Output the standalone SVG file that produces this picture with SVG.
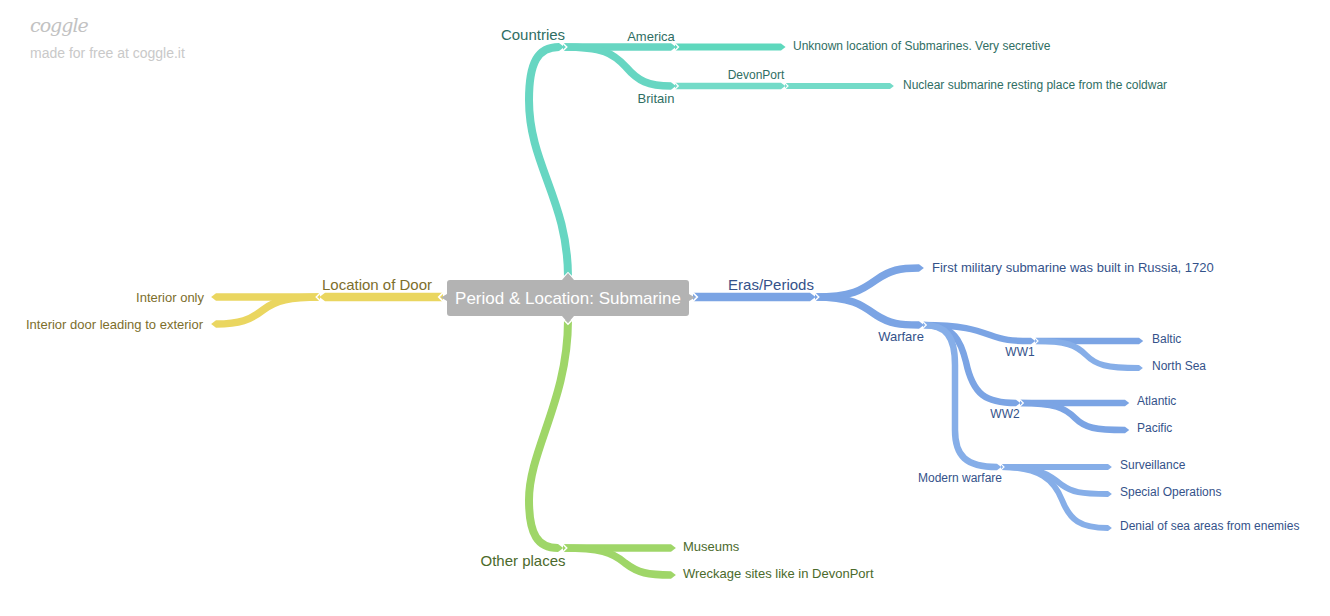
<svg xmlns="http://www.w3.org/2000/svg" width="1330" height="616" viewBox="0 0 1330 616">
<defs>
<style>
text{font-family:"Liberation Sans",Arial,sans-serif}
.e{fill:none;stroke-linecap:butt}
.teal{stroke:#67d6c2}
.teal2{stroke:#5ed8bd}
.teal3{stroke:#74dbc8}
.blue{stroke:#7ba4e4}
.blue2{stroke:#86aee8}
.yel{stroke:#ead660}
.grn{stroke:#9fd668}
.tt{fill:#2f6e63}
.bt{fill:#34528a}
.yt{fill:#7d6e2c}
.gt{fill:#4b6a2c}
.m{text-anchor:middle}
.r{text-anchor:end}
</style>
<marker id="tT" viewBox="-1 -1 2 2" markerWidth="2" markerHeight="2" refX="0" refY="0" orient="auto" markerUnits="strokeWidth" overflow="visible"><path d="M0,-0.5 L0.65,0 L0,0.5 z" fill="#67d6c2"/></marker>
<marker id="tT2" viewBox="-1 -1 2 2" markerWidth="2" markerHeight="2" refX="0" refY="0" orient="auto" markerUnits="strokeWidth" overflow="visible"><path d="M0,-0.5 L0.65,0 L0,0.5 z" fill="#5ed8bd"/></marker>
<marker id="tT3" viewBox="-1 -1 2 2" markerWidth="2" markerHeight="2" refX="0" refY="0" orient="auto" markerUnits="strokeWidth" overflow="visible"><path d="M0,-0.5 L0.65,0 L0,0.5 z" fill="#74dbc8"/></marker>
<marker id="tB" viewBox="-1 -1 2 2" markerWidth="2" markerHeight="2" refX="0" refY="0" orient="auto" markerUnits="strokeWidth" overflow="visible"><path d="M0,-0.5 L0.65,0 L0,0.5 z" fill="#7ba4e4"/></marker>
<marker id="tB2" viewBox="-1 -1 2 2" markerWidth="2" markerHeight="2" refX="0" refY="0" orient="auto" markerUnits="strokeWidth" overflow="visible"><path d="M0,-0.5 L0.65,0 L0,0.5 z" fill="#86aee8"/></marker>
<marker id="tY" viewBox="-1 -1 2 2" markerWidth="2" markerHeight="2" refX="0" refY="0" orient="auto" markerUnits="strokeWidth" overflow="visible"><path d="M0,-0.5 L0.65,0 L0,0.5 z" fill="#ead660"/></marker>
<marker id="tG" viewBox="-1 -1 2 2" markerWidth="2" markerHeight="2" refX="0" refY="0" orient="auto" markerUnits="strokeWidth" overflow="visible"><path d="M0,-0.5 L0.65,0 L0,0.5 z" fill="#9fd668"/></marker>
<marker id="n" viewBox="-1 -1 2 2" markerWidth="2" markerHeight="2" refX="0" refY="0" orient="auto" markerUnits="strokeWidth" overflow="visible"><path d="M-0.1,-0.6 L0.5,0 L-0.1,0.6" fill="none" stroke="#ffffff" stroke-width="0.2"/></marker>
</defs>
<rect width="1330" height="616" fill="#ffffff"/>

<g id="logo">
<text x="30" y="32" font-size="19" font-style="italic" fill="#c2c2c2" style="font-family:'DejaVu Serif',serif;letter-spacing:-1px">coggle</text>
<text x="30" y="58" font-size="14" fill="#c9c9c9">made for free at coggle.it</text>
</g>

<g id="connectors">
<path class="e teal" stroke-width="8" marker-start="url(#n)" marker-end="url(#tT)" d="M568,277 C568,200 529,165 529,100 C529,62 538,47 559,47"/>
<path class="e teal" stroke-width="7.5" marker-start="url(#n)" marker-end="url(#tT)" d="M563,47 L671,47"/>
<path class="e teal2" stroke-width="7" marker-start="url(#n)" marker-end="url(#tT2)" d="M675,47 L781,47"/>
<path class="e teal" stroke-width="7.5" marker-start="url(#n)" marker-end="url(#tT)" d="M563,47 C603,47 613,53 626,67 C638,81 648,86 671,86"/>
<path class="e teal3" stroke-width="6.5" marker-start="url(#n)" marker-end="url(#tT3)" d="M675,86 L781,86"/>
<path class="e teal3" stroke-width="6" marker-start="url(#n)" marker-end="url(#tT3)" d="M785,86 L890,86"/>

<path class="e blue" stroke-width="8.5" marker-start="url(#n)" marker-end="url(#tB)" d="M693,297 L810,297"/>
<path class="e blue" stroke-width="7.5" marker-start="url(#n)" marker-end="url(#tB)" d="M815,297 C852,297 862,290 876,280 C890,270 900,268 919,268"/>
<path class="e blue" stroke-width="7.5" marker-start="url(#n)" marker-end="url(#tB)" d="M815,297 C852,297 862,305 876,315 C890,324 900,325 919,325"/>
<path class="e blue" stroke-width="6.5" marker-start="url(#n)" marker-end="url(#tB)" d="M923,325 C962,325 976,330 990,335 C1004,340 1010,341 1031,341"/>
<path class="e blue" stroke-width="6.5" marker-start="url(#n)" marker-end="url(#tB)" d="M1035,341 L1139,341"/>
<path class="e blue2" stroke-width="6" marker-start="url(#n)" marker-end="url(#tB2)" d="M1035,341 C1066,341 1076,345 1086,355 C1096,365 1106,368 1139,368"/>
<path class="e blue" stroke-width="6.5" marker-start="url(#n)" marker-end="url(#tB)" d="M923,325 C955,325 961,342 966,362 C973,395 986,403 1016,403"/>
<path class="e blue" stroke-width="6.5" marker-start="url(#n)" marker-end="url(#tB)" d="M1020,403 L1125,403"/>
<path class="e blue" stroke-width="6.5" marker-start="url(#n)" marker-end="url(#tB)" d="M1020,403 C1055,403 1065,408 1075,418 C1085,428 1095,430 1125,430"/>
<path class="e blue2" stroke-width="6.5" marker-start="url(#n)" marker-end="url(#tB2)" d="M923,325 C946,325 955,336 955,365 L955,430 C955,456 966,467 997,467"/>
<path class="e blue2" stroke-width="6" marker-start="url(#n)" marker-end="url(#tB2)" d="M1001,467 L1108,467"/>
<path class="e blue2" stroke-width="6" marker-start="url(#n)" marker-end="url(#tB2)" d="M1001,467 C1040,467 1050,475 1062,485 C1072,492 1080,494 1108,494"/>
<path class="e blue2" stroke-width="6" marker-start="url(#n)" marker-end="url(#tB2)" d="M1001,467 C1040,467 1054,480 1062,500 C1070,520 1080,528 1108,528"/>

<path class="e yel" stroke-width="8.5" marker-start="url(#n)" marker-end="url(#tY)" d="M443,297 L325,297"/>
<path class="e yel" stroke-width="7.5" marker-start="url(#n)" marker-end="url(#tY)" d="M320,297 L216,297"/>
<path class="e yel" stroke-width="7.5" marker-start="url(#n)" marker-end="url(#tY)" d="M320,297 C290,297 276,300 263,310 C250,320 240,324 216,324"/>

<path class="e grn" stroke-width="8" marker-start="url(#n)" marker-end="url(#tG)" d="M568,320 C568,400 529,450 529,500 C529,535 538,548 558,548"/>
<path class="e grn" stroke-width="7.5" marker-start="url(#n)" marker-end="url(#tG)" d="M563,548 L671,548"/>
<path class="e grn" stroke-width="7.5" marker-start="url(#n)" marker-end="url(#tG)" d="M563,548 C600,548 612,552 625,563 C638,573 648,575 671,575"/>
</g>

<g id="center">
<path d="M450,280 L562,280 L568,273 L574,280 L686,280 Q689,280 689,283 L689,294 L695,297.5 L689,301 L689,313 Q689,316 686,316 L574,316 L568,323 L562,316 L450,316 Q447,316 447,313 L447,301 L441,297.5 L447,294 L447,283 Q447,280 450,280 z" fill="#b3b3b3"/>
<text x="568" y="304" font-size="17" fill="#ffffff" class="m">Period &amp; Location: Submarine</text>
</g>

<g id="countries"><text x="533" y="40" font-size="15" class="tt m">Countries</text></g>
<g id="america"><text x="651" y="41" font-size="13" class="tt m">America</text></g>
<g id="unknown"><text x="793" y="50" font-size="12" class="tt">Unknown location of Submarines. Very secretive</text></g>
<g id="britain"><text x="656" y="103" font-size="13" class="tt m">Britain</text></g>
<g id="devonport"><text x="756" y="79" font-size="12" class="tt m">DevonPort</text></g>
<g id="nuclear"><text x="903" y="89" font-size="12" class="tt">Nuclear submarine resting place from the coldwar</text></g>

<g id="eras"><text x="771" y="290" font-size="15" class="bt m">Eras/Periods</text></g>
<g id="first"><text x="932" y="272" font-size="13" class="bt">First military submarine was built in Russia, 1720</text></g>
<g id="warfare"><text x="901" y="341" font-size="13" class="bt m">Warfare</text></g>
<g id="ww1"><text x="1020" y="356" font-size="12" class="bt m">WW1</text></g>
<g id="baltic"><text x="1152" y="343" font-size="12" class="bt">Baltic</text></g>
<g id="northsea"><text x="1152" y="370" font-size="12" class="bt">North Sea</text></g>
<g id="ww2"><text x="1005" y="418" font-size="12" class="bt m">WW2</text></g>
<g id="atlantic"><text x="1137" y="405" font-size="12" class="bt">Atlantic</text></g>
<g id="pacific"><text x="1137" y="432" font-size="12" class="bt">Pacific</text></g>
<g id="modern"><text x="960" y="482" font-size="12" class="bt m">Modern warfare</text></g>
<g id="surveillance"><text x="1120" y="469" font-size="12" class="bt">Surveillance</text></g>
<g id="specialops"><text x="1120" y="496" font-size="12" class="bt">Special Operations</text></g>
<g id="denial"><text x="1120" y="530" font-size="12" class="bt">Denial of sea areas from enemies</text></g>

<g id="door"><text x="377" y="290" font-size="15" class="yt m">Location of Door</text></g>
<g id="interioronly"><text x="204" y="302" font-size="13" class="yt r">Interior only</text></g>
<g id="interiordoor"><text x="203" y="329" font-size="13" class="yt r">Interior door leading to exterior</text></g>

<g id="other"><text x="523" y="566" font-size="15" class="gt m">Other places</text></g>
<g id="museums"><text x="683" y="551" font-size="13" class="gt">Museums</text></g>
<g id="wreckage"><text x="683" y="578" font-size="13" class="gt">Wreckage sites like in DevonPort</text></g>
</svg>
